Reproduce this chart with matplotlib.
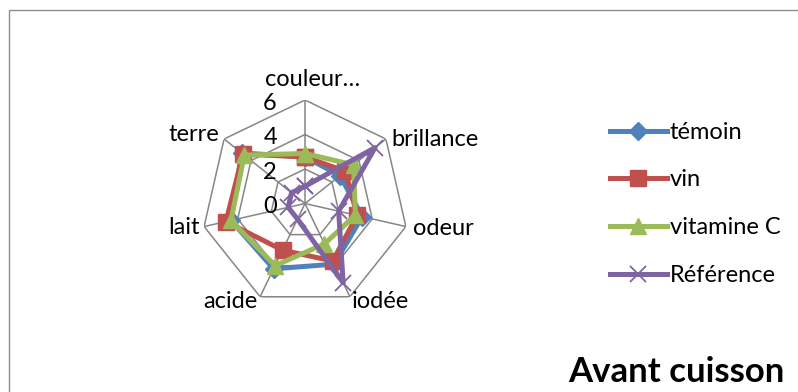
import numpy as np
import matplotlib
matplotlib.use('Agg')
import matplotlib.pyplot as plt
from matplotlib.patches import Rectangle

plt.rcParams['font.family'] = ['Lato', 'DejaVu Sans']

# sensory scores per criterion
categories = ['couleur…', 'brillance', 'odeur', 'iodée', 'acide', 'lait', 'terre']
temoin = [2.7, 2.6, 3.4, 3.9, 4.2, 4.4, 4.7]
vin = [2.7, 3.0, 3.1, 3.7, 3.0, 4.7, 4.6]
vitamine_c = [2.9, 3.6, 3.0, 2.6, 4.0, 4.4, 4.5]
reference = [1.0, 5.2, 2.0, 5.1, 1.0, 1.0, 1.0]
series_names = ['témoin', 'vin', 'vitamine C', 'Référence']
rings = [2, 4, 6]
tick_values = [0, 2, 4, 6]

colors = ['#4F81BD', '#C0504D', '#9BBB59', '#8064A2']
markers = ['D', 's', '^', 'x']
msizes = [9, 12, 12, 12]
grid_col = '#868686'

fig = plt.figure(figsize=(7.98, 3.92), dpi=100)

# outer chart frame
fig.patches.append(Rectangle((9 / 798, -0.5), 2, 1.5 - 10 / 392, transform=fig.transFigure,
                             fill=False, edgecolor='#8c8c8c', linewidth=1))

ax = fig.add_axes([0.2525, 0.2168, 0.2594, 0.528], projection='polar')
ax.set_theta_zero_location('N')
ax.set_theta_direction(-1)
ax.set_ylim(0, 6)
ax.axis('off')

n = len(categories)
angles = np.linspace(0, 2 * np.pi, n, endpoint=False)
closed = np.append(angles, angles[0])

# heptagon grid
for r in rings:
    ax.plot(closed, [r] * (n + 1), color=grid_col, lw=1.1, zorder=1)
for a in angles:
    ax.plot([a, a], [0, 6], color=grid_col, lw=1.1, zorder=1)

for v in tick_values:
    ax.annotate(str(v), xy=(0, v), xytext=(-28, -3), textcoords='offset pixels',
                ha='right', va='center', fontsize=17)

# category labels around the web
label_pos = [
    ((8, 10), 'center', 'bottom'),
    ((5, 0), 'left', 'center'),
    ((7, -2), 'left', 'center'),
    ((2, -5), 'left', 'center'),
    ((-3, -5), 'right', 'center'),
    ((-4, -1), 'right', 'center'),
    ((-5, 5), 'right', 'center'),
]
for a, name, (off, ha, va) in zip(angles, categories, label_pos):
    ax.annotate(name, xy=(a, 6), xytext=off, textcoords='offset pixels',
                ha=ha, va=va, fontsize=17)

all_series = [temoin, vin, vitamine_c, reference]
for i, vals in enumerate(all_series):
    c = colors[i]
    ax.plot(closed, vals + vals[:1], color=c, lw=3.6, marker=markers[i],
            ms=msizes[i], mfc=c, mec=c, mew=1.3 if markers[i] == 'x' else 1,
            label=series_names[i], zorder=3 + i, clip_on=False)

fig.legend(loc='center left', bbox_to_anchor=(610 / 798, 0.480), frameon=False,
           fontsize=17, handlelength=2.4, handletextpad=0.13, labelspacing=1.13,
           borderpad=0, borderaxespad=0)

fig.text(785 / 798, 20 / 392, 'Avant cuisson', ha='right', va='center',
         fontsize=25, fontweight='bold')

fig.savefig('out.png', dpi=100)
